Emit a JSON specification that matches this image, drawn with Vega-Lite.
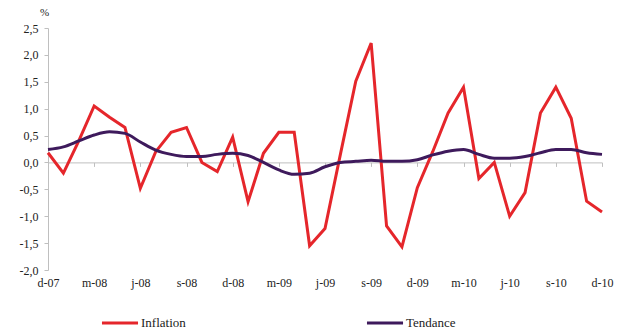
{
  "$schema": "https://vega.github.io/schema/vega-lite/v6.json",
  "width": 554,
  "height": 242,
  "autosize": {"type": "none"},
  "padding": {"left": 48, "top": 28, "right": 19, "bottom": 63},
  "background": "white",
  "config": {"view": {"stroke": null}, "font": "Times New Roman, Liberation Serif, DejaVu Serif, serif"},
  "datasets": {
    "d": [
      {"mois": "2007-12", "Inflation": 0.18, "Tendance": 0.24},
      {"mois": "2008-01", "Inflation": -0.2, "Tendance": 0.29},
      {"mois": "2008-02", "Inflation": 0.4, "Tendance": 0.4},
      {"mois": "2008-03", "Inflation": 1.05, "Tendance": 0.51},
      {"mois": "2008-04", "Inflation": 0.84, "Tendance": 0.57},
      {"mois": "2008-05", "Inflation": 0.65, "Tendance": 0.54},
      {"mois": "2008-06", "Inflation": -0.48, "Tendance": 0.38},
      {"mois": "2008-07", "Inflation": 0.2, "Tendance": 0.23},
      {"mois": "2008-08", "Inflation": 0.56, "Tendance": 0.15},
      {"mois": "2008-09", "Inflation": 0.65, "Tendance": 0.11},
      {"mois": "2008-10", "Inflation": 0.0, "Tendance": 0.11},
      {"mois": "2008-11", "Inflation": -0.17, "Tendance": 0.15},
      {"mois": "2008-12", "Inflation": 0.47, "Tendance": 0.17},
      {"mois": "2009-01", "Inflation": -0.73, "Tendance": 0.13},
      {"mois": "2009-02", "Inflation": 0.17, "Tendance": 0.0},
      {"mois": "2009-03", "Inflation": 0.56, "Tendance": -0.14},
      {"mois": "2009-04", "Inflation": 0.56, "Tendance": -0.22},
      {"mois": "2009-05", "Inflation": -1.55, "Tendance": -0.2},
      {"mois": "2009-06", "Inflation": -1.23, "Tendance": -0.08},
      {"mois": "2009-07", "Inflation": 0.15, "Tendance": 0.0},
      {"mois": "2009-08", "Inflation": 1.51, "Tendance": 0.02},
      {"mois": "2009-09", "Inflation": 2.22, "Tendance": 0.04},
      {"mois": "2009-10", "Inflation": -1.18, "Tendance": 0.02},
      {"mois": "2009-11", "Inflation": -1.57, "Tendance": 0.02},
      {"mois": "2009-12", "Inflation": -0.47, "Tendance": 0.05},
      {"mois": "2010-01", "Inflation": 0.2, "Tendance": 0.14},
      {"mois": "2010-02", "Inflation": 0.92, "Tendance": 0.21},
      {"mois": "2010-03", "Inflation": 1.4, "Tendance": 0.24},
      {"mois": "2010-04", "Inflation": -0.3, "Tendance": 0.15},
      {"mois": "2010-05", "Inflation": 0.0, "Tendance": 0.08},
      {"mois": "2010-06", "Inflation": -1.0, "Tendance": 0.08},
      {"mois": "2010-07", "Inflation": -0.56, "Tendance": 0.11},
      {"mois": "2010-08", "Inflation": 0.92, "Tendance": 0.18},
      {"mois": "2010-09", "Inflation": 1.4, "Tendance": 0.24},
      {"mois": "2010-10", "Inflation": 0.82, "Tendance": 0.24},
      {"mois": "2010-11", "Inflation": -0.72, "Tendance": 0.18},
      {"mois": "2010-12", "Inflation": -0.92, "Tendance": 0.15}
    ]
  },
  "data": {"name": "d"},
  "transform": [{"fold": ["Inflation", "Tendance"], "as": ["serie", "valeur"]}],
  "resolve": {"axis": {"x": "independent"}},
  "encoding": {
    "y": {
      "field": "valeur", "type": "quantitative",
      "scale": {"domain": [-2, 2.5], "nice": false, "zero": false},
      "axis": {
        "title": "%", "titleAngle": 0, "titleX": -4, "titleY": -11, "titleAlign": "center",
        "titleFontWeight": "normal", "titleFontSize": 11, "titleColor": "#222",
        "values": [-2, -1.5, -1, -0.5, 0, 0.5, 1, 1.5, 2, 2.5],
        "labelExpr": "replace(replace(format(datum.value,'.1f'),'.',','),'\u2212','-')",
        "labelFontSize": 12, "labelColor": "#222", "labelOverlap": false,
        "grid": false, "domainColor": "#bfbfbf", "tickColor": "#bfbfbf", "tickSize": 4, "labelPadding": 6
      }
    },
    "color": {
      "field": "serie", "type": "nominal",
      "scale": {"domain": ["Inflation", "Tendance"], "range": ["#E5262B", "#3E1A5C"]},
      "legend": {
        "title": null, "orient": "none", "direction": "horizontal",
        "legendX": 52, "legendY": 275,
        "symbolType": "stroke", "symbolStrokeWidth": 3, "symbolSize": 1300,
        "labelFontSize": 13, "labelColor": "#222",
        "labelOffset": 1, "columnPadding": 174
      }
    }
  },
  "layer": [
    {
      "transform": [{"filter": "datum.serie === 'Inflation'"}],
      "mark": {"type": "line", "strokeWidth": 3, "interpolate": "linear"},
      "encoding": {
        "x": {
          "field": "mois", "type": "ordinal", "scale": {"type": "point", "padding": 0},
          "axis": {
            "title": null, "domain": false, "ticks": false, "orient": "bottom",
            "values": ["2007-12","2008-03","2008-06","2008-09","2008-12","2009-03","2009-06","2009-09","2009-12","2010-03","2010-06","2010-09","2010-12"],
            "labelExpr": "(slice(datum.value,5)=='12'?'d':slice(datum.value,5)=='03'?'m':slice(datum.value,5)=='06'?'j':'s') + '-' + slice(datum.value,2,4)",
            "labelAngle": 0, "labelFontSize": 12, "labelColor": "#222", "labelPadding": 7, "labelOverlap": false
          }
        }
      }
    },
    {
      "transform": [{"filter": "datum.serie === 'Tendance'"}],
      "mark": {"type": "line", "strokeWidth": 3, "interpolate": "monotone"},
      "encoding": {
        "x": {
          "field": "mois", "type": "ordinal",
          "axis": {
            "title": null, "labels": false, "orient": "bottom", "offset": -107.6,
            "values": ["2007-12","2008-03","2008-06","2008-09","2008-12","2009-03","2009-06","2009-09","2009-12","2010-03","2010-06","2010-09","2010-12"],
            "domainColor": "#bfbfbf", "tickColor": "#bfbfbf", "tickSize": 4
          }
        }
      }
    }
  ]
}
